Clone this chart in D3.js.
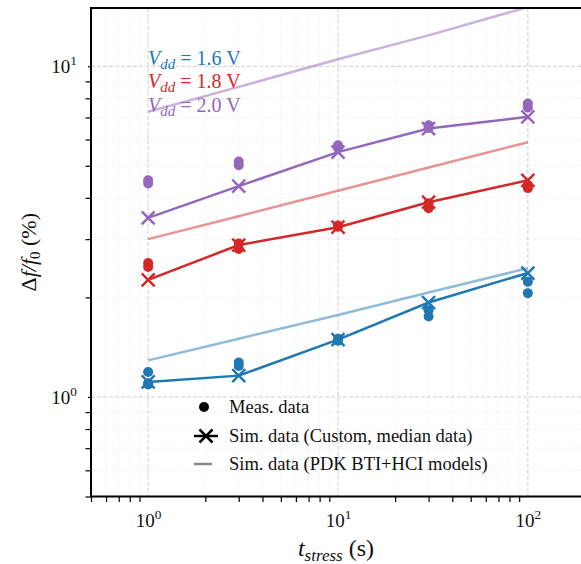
<!DOCTYPE html>
<html>
<head>
<meta charset="utf-8">
<script src="https://cdn.jsdelivr.net/npm/d3@7"></script>
<style>
body { margin: 0; background: #fff; }
</style>
</head>
<body>
<script>
// stress times (s)
var tStress = [1, 3, 10, 30, 100];
var vddLabels = ["1.6", "1.8", "2.0"];
var vddColors = ["#1f77b4", "#d62728", "#9467bd"];

// measured data, several dies per stress time
var meas16 = [[1.19, 1.09, 1.10], [1.27, 1.24], [1.50, 1.48], [1.83, 1.75], [2.23, 2.06]];
var meas18 = [[2.54, 2.47], [2.91, 2.80], [3.30, 3.27], [3.85, 3.72], [4.37, 4.28]];
var meas20 = [[4.52, 4.42], [5.15, 5.02], [5.77, 5.66], [6.63, 6.50], [7.71, 7.50]];

// simulated, custom model (median)
var sim16 = [1.11, 1.16, 1.49, 1.93, 2.37];
var sim18 = [2.26, 2.88, 3.26, 3.88, 4.52];
var sim20 = [3.48, 4.34, 5.50, 6.48, 7.03];

// simulated, PDK BTI+HCI models
var pdk16 = [1.29, 1.50, 1.77, 2.07, 2.45];
var pdk18 = [3.00, 3.52, 4.20, 4.94, 5.89];
var pdk20 = [7.28, 8.66, 10.5, 12.4, 15.1];

var legendLabels = ["Meas. data", "Sim. data (Custom, median data)", "Sim. data (PDK BTI+HCI models)"];

var meas = [meas16, meas18, meas20],
    sims = [sim16, sim18, sim20],
    pdks = [pdk16, pdk18, pdk20];

var FONT = "'Liberation Serif', 'DejaVu Serif', 'Times New Roman', Times, serif";
var W = 581, H = 564;
var x0 = 91, x1 = 585, yTop = 8, yBot = 496.5;

var svg = d3.select("body").append("svg")
    .attr("width", W)
    .attr("height", H)
    .attr("font-family", FONT);

var x = d3.scaleLog().domain([0.5, 200]).range([x0, x1]);
var y = d3.scaleLog().domain([0.5, 15]).range([yBot, yTop]);

var isMajor = function (v) { return Math.abs(Math.log10(v) - Math.round(Math.log10(v))) < 1e-9; };
var xMinor = x.ticks().filter(function (v) { return !isMajor(v); });
var yMinor = y.ticks().filter(function (v) { return !isMajor(v); });
var xMajor = [1, 10, 100], yMajor = [1, 10];

svg.append("clipPath").attr("id", "clip")
    .append("rect").attr("x", x0).attr("y", yTop).attr("width", x1 - x0).attr("height", yBot - yTop);

// grid
var grid = svg.append("g");
grid.selectAll(".gxm").data(xMinor).enter().append("line")
    .attr("x1", x).attr("x2", x).attr("y1", yTop).attr("y2", yBot)
    .attr("stroke", "#e4e4e4").attr("stroke-width", 0.8).attr("stroke-dasharray", "1,2");
grid.selectAll(".gym").data(yMinor).enter().append("line")
    .attr("y1", y).attr("y2", y).attr("x1", x0).attr("x2", x1)
    .attr("stroke", "#e4e4e4").attr("stroke-width", 0.8).attr("stroke-dasharray", "1,2");
grid.selectAll(".gx").data(xMajor).enter().append("line")
    .attr("x1", x).attr("x2", x).attr("y1", yTop).attr("y2", yBot)
    .attr("stroke", "#cfcfcf").attr("stroke-width", 1).attr("stroke-dasharray", "4,2");
grid.selectAll(".gy").data(yMajor).enter().append("line")
    .attr("y1", y).attr("y2", y).attr("x1", x0).attr("x2", x1)
    .attr("stroke", "#cfcfcf").attr("stroke-width", 1).attr("stroke-dasharray", "4,2");

var plot = svg.append("g").attr("clip-path", "url(#clip)");
var line = d3.line().x(function (d) { return x(d[0]); }).y(function (d) { return y(d[1]); });

// PDK lines
pdks.forEach(function (vals, i) {
    plot.append("path")
        .datum(tStress.map(function (t, j) { return [t, vals[j]]; }))
        .attr("d", line)
        .attr("fill", "none")
        .attr("stroke", vddColors[i])
        .attr("stroke-opacity", 0.5)
        .attr("stroke-width", 2.5);
});

// measured dots
meas.forEach(function (set, i) {
    var pts = [];
    set.forEach(function (vals, j) { vals.forEach(function (v) { pts.push([tStress[j], v]); }); });
    plot.selectAll(".m" + i).data(pts).enter().append("circle")
        .attr("cx", function (d) { return x(d[0]); })
        .attr("cy", function (d) { return y(d[1]); })
        .attr("r", 5)
        .attr("fill", vddColors[i]);
});

// custom sim lines with x markers
var xm = 6.5;
var xPath = function (cx, cy) {
    return "M" + (cx - xm) + "," + (cy - xm) + "L" + (cx + xm) + "," + (cy + xm) +
        "M" + (cx - xm) + "," + (cy + xm) + "L" + (cx + xm) + "," + (cy - xm);
};
sims.forEach(function (vals, i) {
    var pts = tStress.map(function (t, j) { return [t, vals[j]]; });
    plot.append("path").datum(pts)
        .attr("d", line)
        .attr("fill", "none")
        .attr("stroke", vddColors[i])
        .attr("stroke-width", 2.5);
    plot.selectAll(".s" + i).data(pts).enter().append("path")
        .attr("d", function (d) { return xPath(x(d[0]), y(d[1])); })
        .attr("stroke", vddColors[i])
        .attr("stroke-width", 2.5)
        .attr("fill", "none");
});

// axes
var supLabel = function (sel) {
    sel.selectAll("text").each(function (d) {
        var t = d3.select(this);
        t.text(null);
        t.append("tspan").text("10");
        t.append("tspan").attr("dy", "-0.6em").attr("font-size", "0.7em").text(Math.round(Math.log10(d)));
    });
};

var gx = svg.append("g").attr("transform", "translate(0," + yBot + ")");
gx.append("g").call(d3.axisBottom(x).tickValues(xMinor).tickSize(5.5).tickFormat(""));
gx.append("g").call(d3.axisBottom(x).tickValues(xMajor).tickSize(0).tickPadding(17)).call(supLabel);

var gy = svg.append("g").attr("transform", "translate(" + x0 + ",0)");
gy.append("g").call(d3.axisLeft(y).tickValues(yMinor).tickSize(5.5).tickFormat(""));
gy.append("g").call(d3.axisLeft(y).tickValues(yMajor).tickSize(3).tickPadding(11)).call(supLabel);

svg.selectAll(".domain").remove();
svg.selectAll("g").attr("font-family", FONT);
svg.selectAll(".tick line").attr("stroke", "#000").attr("stroke-width", 1.2);
svg.selectAll(".tick text").attr("font-size", 19).attr("fill", "#111");

// frame
svg.append("rect")
    .attr("x", x0).attr("y", yTop)
    .attr("width", x1 - x0).attr("height", yBot - yTop)
    .attr("fill", "none").attr("stroke", "#000").attr("stroke-width", 2);

// axis labels
var yl = svg.append("text")
    .attr("transform", "translate(36," + ((yTop + yBot) / 2) + ") rotate(-90)")
    .attr("text-anchor", "middle")
    .attr("font-size", 22).attr("fill", "#111");
yl.append("tspan").text("Δ");
yl.append("tspan").attr("font-style", "italic").text("f/f");
yl.append("tspan").attr("font-size", 15).attr("dy", 4).text("0");
yl.append("tspan").attr("dy", -4).text(" (%)");

var xl = svg.append("text")
    .attr("x", 336).attr("y", 556)
    .attr("text-anchor", "middle")
    .attr("font-size", 24).attr("fill", "#111");
xl.append("tspan").attr("font-style", "italic").text("t");
xl.append("tspan").attr("font-style", "italic").attr("font-size", 17).attr("dy", 5).text("stress");
xl.append("tspan").attr("dy", -5).text(" (s)");

// Vdd legend
vddLabels.forEach(function (lab, i) {
    var t = svg.append("text")
        .attr("x", 148).attr("y", 65 + i * 23.3)
        .attr("font-size", 20).attr("fill", vddColors[i]);
    t.append("tspan").attr("font-style", "italic").text("V");
    t.append("tspan").attr("font-style", "italic").attr("font-size", 15).attr("dy", 4).text("dd");
    t.append("tspan").attr("dy", -4).text(" = " + lab + " V");
});

// marker legend
var lg = svg.append("g");
var rowY = [407, 436, 464];
lg.append("circle").attr("cx", 204).attr("cy", rowY[0]).attr("r", 5).attr("fill", "#000");
lg.append("line").attr("x1", 194).attr("x2", 218).attr("y1", rowY[1]).attr("y2", rowY[1])
    .attr("stroke", "#000").attr("stroke-width", 2.5);
lg.append("path").attr("d", xPath(206, rowY[1])).attr("stroke", "#000").attr("stroke-width", 2.5);
lg.append("line").attr("x1", 194).attr("x2", 212).attr("y1", rowY[2]).attr("y2", rowY[2])
    .attr("stroke", "#888").attr("stroke-width", 2.5);
legendLabels.forEach(function (lab, i) {
    lg.append("text").attr("x", 229).attr("y", rowY[i] + 6)
        .attr("font-size", 18.5).attr("fill", "#111").text(lab);
});
</script>
</body>
</html>
